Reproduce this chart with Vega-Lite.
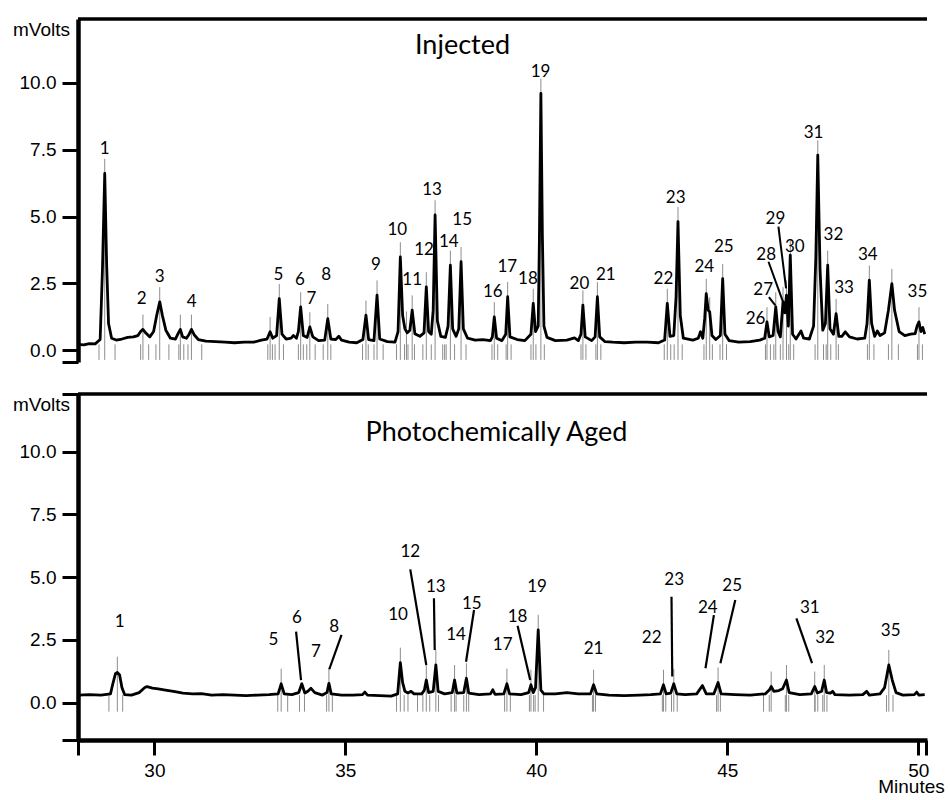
{
"$schema": "https://vega.github.io/schema/vega-lite/v6.json",
"background": "white",
"padding": {"left": 12, "top": 17, "right": 5, "bottom": 0},
"spacing": 28,
"config": {"view": {"stroke": null}, "axis": {"grid": false, "domainColor": "black", "tickColor": "black", "labelColor": "black", "titleColor": "black", "labelFont": "Liberation Sans", "titleFont": "Liberation Sans", "labelFontSize": 19, "titleFontSize": 19, "titleFontWeight": "normal"}},
"datasets": {
"topTrace": [{"t":28.0,"v":0.22},{"t":28.15,"v":0.2},{"t":28.3,"v":0.25},{"t":28.45,"v":0.24},{"t":28.58,"v":0.4},{"t":28.64,"v":3.0},{"t":28.70,"v":6.61},{"t":28.75,"v":3.2},{"t":28.80,"v":1.0},{"t":28.88,"v":0.45},{"t":29.0,"v":0.38},{"t":29.15,"v":0.42},{"t":29.3,"v":0.48},{"t":29.45,"v":0.5},{"t":29.57,"v":0.55},{"t":29.64,"v":0.7},{"t":29.70,"v":0.78},{"t":29.77,"v":0.65},{"t":29.88,"v":0.5},{"t":29.98,"v":0.7},{"t":30.06,"v":1.3},{"t":30.14,"v":1.81},{"t":30.21,"v":1.3},{"t":30.3,"v":0.75},{"t":30.42,"v":0.45},{"t":30.55,"v":0.42},{"t":30.62,"v":0.62},{"t":30.68,"v":0.78},{"t":30.74,"v":0.5},{"t":30.84,"v":0.45},{"t":30.91,"v":0.6},{"t":30.97,"v":0.78},{"t":31.04,"v":0.58},{"t":31.15,"v":0.4},{"t":31.35,"v":0.34},{"t":31.6,"v":0.32},{"t":31.85,"v":0.3},{"t":32.1,"v":0.28},{"t":32.35,"v":0.3},{"t":32.6,"v":0.3},{"t":32.8,"v":0.38},{"t":32.95,"v":0.42},{"t":33.03,"v":0.69},{"t":33.1,"v":0.45},{"t":33.2,"v":0.55},{"t":33.27,"v":1.93},{"t":33.34,"v":0.6},{"t":33.45,"v":0.42},{"t":33.58,"v":0.45},{"t":33.64,"v":0.55},{"t":33.72,"v":0.45},{"t":33.77,"v":0.7},{"t":33.83,"v":1.62},{"t":33.9,"v":0.55},{"t":34.0,"v":0.48},{"t":34.07,"v":0.87},{"t":34.15,"v":0.5},{"t":34.3,"v":0.36},{"t":34.46,"v":0.38},{"t":34.54,"v":1.18},{"t":34.62,"v":0.42},{"t":34.75,"v":0.4},{"t":34.83,"v":0.52},{"t":34.9,"v":0.38},{"t":35.1,"v":0.3},{"t":35.3,"v":0.28},{"t":35.46,"v":0.4},{"t":35.54,"v":1.31},{"t":35.61,"v":0.4},{"t":35.75,"v":0.36},{"t":35.83,"v":2.06},{"t":35.9,"v":0.42},{"t":36.1,"v":0.32},{"t":36.3,"v":0.3},{"t":36.38,"v":0.7},{"t":36.44,"v":3.49},{"t":36.5,"v":1.3},{"t":36.56,"v":0.8},{"t":36.62,"v":0.65},{"t":36.69,"v":0.75},{"t":36.75,"v":1.5},{"t":36.82,"v":0.62},{"t":36.95,"v":0.52},{"t":37.06,"v":0.65},{"t":37.12,"v":2.37},{"t":37.18,"v":0.7},{"t":37.25,"v":0.6},{"t":37.3,"v":1.5},{"t":37.35,"v":5.06},{"t":37.41,"v":1.1},{"t":37.5,"v":0.52},{"t":37.62,"v":0.48},{"t":37.69,"v":0.9},{"t":37.75,"v":3.18},{"t":37.81,"v":0.8},{"t":37.9,"v":0.52},{"t":37.97,"v":0.8},{"t":38.03,"v":3.31},{"t":38.09,"v":0.8},{"t":38.2,"v":0.45},{"t":38.4,"v":0.38},{"t":38.6,"v":0.4},{"t":38.8,"v":0.36},{"t":38.85,"v":0.5},{"t":38.90,"v":1.25},{"t":38.96,"v":0.45},{"t":39.1,"v":0.36},{"t":39.2,"v":0.6},{"t":39.25,"v":2.0},{"t":39.31,"v":0.5},{"t":39.5,"v":0.4},{"t":39.7,"v":0.36},{"t":39.86,"v":0.6},{"t":39.92,"v":1.75},{"t":39.98,"v":0.7},{"t":40.05,"v":0.9},{"t":40.08,"v":4.0},{"t":40.12,"v":9.61},{"t":40.16,"v":4.2},{"t":40.2,"v":0.9},{"t":40.28,"v":0.48},{"t":40.5,"v":0.36},{"t":40.8,"v":0.38},{"t":41.0,"v":0.46},{"t":41.1,"v":0.36},{"t":41.17,"v":0.6},{"t":41.22,"v":1.69},{"t":41.28,"v":0.5},{"t":41.45,"v":0.36},{"t":41.54,"v":0.5},{"t":41.60,"v":2.0},{"t":41.66,"v":0.5},{"t":41.8,"v":0.32},{"t":42.0,"v":0.3},{"t":42.3,"v":0.28},{"t":42.6,"v":0.3},{"t":42.9,"v":0.3},{"t":43.2,"v":0.28},{"t":43.36,"v":0.38},{"t":43.43,"v":1.75},{"t":43.5,"v":0.52},{"t":43.6,"v":0.55},{"t":43.66,"v":2.0},{"t":43.71,"v":4.81},{"t":43.77,"v":1.3},{"t":43.85,"v":0.45},{"t":44.1,"v":0.38},{"t":44.24,"v":0.45},{"t":44.30,"v":0.69},{"t":44.36,"v":0.45},{"t":44.41,"v":1.2},{"t":44.45,"v":2.12},{"t":44.50,"v":1.5},{"t":44.54,"v":1.43},{"t":44.6,"v":0.55},{"t":44.7,"v":0.4},{"t":44.82,"v":0.55},{"t":44.88,"v":2.68},{"t":44.94,"v":0.6},{"t":45.05,"v":0.36},{"t":45.3,"v":0.3},{"t":45.6,"v":0.32},{"t":45.85,"v":0.38},{"t":45.98,"v":0.45},{"t":46.04,"v":1.06},{"t":46.1,"v":0.5},{"t":46.2,"v":0.55},{"t":46.27,"v":1.62},{"t":46.33,"v":0.7},{"t":46.39,"v":0.5},{"t":46.46,"v":1.81},{"t":46.51,"v":1.4},{"t":46.55,"v":2.06},{"t":46.6,"v":0.9},{"t":46.65,"v":3.56},{"t":46.71,"v":0.6},{"t":46.8,"v":0.42},{"t":46.93,"v":0.72},{"t":47.0,"v":0.45},{"t":47.15,"v":0.42},{"t":47.26,"v":0.9},{"t":47.32,"v":3.5},{"t":47.37,"v":7.30},{"t":47.43,"v":3.0},{"t":47.5,"v":0.75},{"t":47.57,"v":1.0},{"t":47.63,"v":3.18},{"t":47.69,"v":0.8},{"t":47.78,"v":0.6},{"t":47.85,"v":1.37},{"t":47.92,"v":0.52},{"t":48.0,"v":0.52},{"t":48.09,"v":0.69},{"t":48.2,"v":0.5},{"t":48.4,"v":0.42},{"t":48.6,"v":0.45},{"t":48.66,"v":1.0},{"t":48.72,"v":2.62},{"t":48.78,"v":1.0},{"t":48.86,"v":0.52},{"t":48.93,"v":0.72},{"t":49.0,"v":0.55},{"t":49.12,"v":0.65},{"t":49.22,"v":1.5},{"t":49.31,"v":2.49},{"t":49.38,"v":1.5},{"t":49.5,"v":0.7},{"t":49.65,"v":0.55},{"t":49.8,"v":0.6},{"t":49.92,"v":0.62},{"t":49.97,"v":0.9},{"t":50.02,"v":1.06},{"t":50.07,"v":0.7},{"t":50.12,"v":0.85},{"t":50.17,"v":0.6}],
"bottomTrace": [{"t":28.0,"v":0.3},{"t":28.3,"v":0.32},{"t":28.6,"v":0.3},{"t":28.85,"v":0.35},{"t":28.92,"v":0.8},{"t":28.98,"v":1.15},{"t":29.03,"v":1.2},{"t":29.09,"v":1.1},{"t":29.15,"v":0.6},{"t":29.22,"v":0.32},{"t":29.4,"v":0.3},{"t":29.6,"v":0.4},{"t":29.75,"v":0.6},{"t":29.81,"v":0.64},{"t":29.95,"v":0.58},{"t":30.1,"v":0.55},{"t":30.29,"v":0.5},{"t":30.5,"v":0.45},{"t":30.75,"v":0.38},{"t":31.0,"v":0.35},{"t":31.23,"v":0.36},{"t":31.5,"v":0.3},{"t":31.8,"v":0.32},{"t":32.1,"v":0.3},{"t":32.4,"v":0.28},{"t":32.7,"v":0.3},{"t":33.0,"v":0.32},{"t":33.24,"v":0.35},{"t":33.32,"v":0.75},{"t":33.4,"v":0.35},{"t":33.6,"v":0.32},{"t":33.78,"v":0.4},{"t":33.86,"v":0.75},{"t":33.94,"v":0.38},{"t":34.02,"v":0.45},{"t":34.1,"v":0.57},{"t":34.2,"v":0.4},{"t":34.4,"v":0.3},{"t":34.52,"v":0.4},{"t":34.57,"v":0.77},{"t":34.63,"v":0.35},{"t":34.9,"v":0.3},{"t":35.2,"v":0.3},{"t":35.45,"v":0.32},{"t":35.51,"v":0.42},{"t":35.58,"v":0.3},{"t":35.9,"v":0.28},{"t":36.2,"v":0.26},{"t":36.37,"v":0.35},{"t":36.44,"v":1.59},{"t":36.5,"v":0.8},{"t":36.56,"v":0.45},{"t":36.64,"v":0.38},{"t":36.72,"v":0.45},{"t":36.8,"v":0.35},{"t":37.0,"v":0.35},{"t":37.07,"v":0.5},{"t":37.12,"v":0.9},{"t":37.18,"v":0.4},{"t":37.3,"v":0.45},{"t":37.37,"v":1.5},{"t":37.43,"v":0.45},{"t":37.6,"v":0.35},{"t":37.8,"v":0.4},{"t":37.86,"v":0.9},{"t":37.92,"v":0.38},{"t":38.1,"v":0.4},{"t":38.17,"v":0.97},{"t":38.23,"v":0.38},{"t":38.5,"v":0.32},{"t":38.8,"v":0.35},{"t":38.86,"v":0.51},{"t":38.92,"v":0.33},{"t":39.15,"v":0.35},{"t":39.23,"v":0.75},{"t":39.3,"v":0.35},{"t":39.6,"v":0.32},{"t":39.8,"v":0.4},{"t":39.86,"v":0.71},{"t":39.92,"v":0.4},{"t":39.98,"v":0.6},{"t":40.05,"v":2.9},{"t":40.12,"v":0.5},{"t":40.2,"v":0.35},{"t":40.5,"v":0.35},{"t":40.8,"v":0.4},{"t":41.1,"v":0.35},{"t":41.42,"v":0.35},{"t":41.5,"v":0.71},{"t":41.58,"v":0.35},{"t":41.9,"v":0.3},{"t":42.3,"v":0.28},{"t":42.7,"v":0.3},{"t":43.0,"v":0.32},{"t":43.25,"v":0.35},{"t":43.33,"v":0.71},{"t":43.4,"v":0.35},{"t":43.52,"v":0.38},{"t":43.6,"v":0.75},{"t":43.68,"v":0.35},{"t":43.9,"v":0.32},{"t":44.2,"v":0.35},{"t":44.35,"v":0.68},{"t":44.45,"v":0.35},{"t":44.65,"v":0.35},{"t":44.76,"v":0.8},{"t":44.84,"v":0.35},{"t":45.2,"v":0.32},{"t":45.6,"v":0.3},{"t":46.0,"v":0.35},{"t":46.1,"v":0.5},{"t":46.15,"v":0.64},{"t":46.22,"v":0.45},{"t":46.35,"v":0.48},{"t":46.45,"v":0.55},{"t":46.55,"v":0.9},{"t":46.62,"v":0.4},{"t":46.9,"v":0.32},{"t":47.2,"v":0.35},{"t":47.29,"v":0.64},{"t":47.36,"v":0.38},{"t":47.47,"v":0.45},{"t":47.54,"v":0.9},{"t":47.6,"v":0.4},{"t":47.7,"v":0.38},{"t":47.76,"v":0.45},{"t":47.82,"v":0.32},{"t":48.2,"v":0.3},{"t":48.55,"v":0.32},{"t":48.65,"v":0.45},{"t":48.72,"v":0.3},{"t":49.0,"v":0.35},{"t":49.12,"v":0.6},{"t":49.23,"v":1.5},{"t":49.32,"v":0.9},{"t":49.42,"v":0.4},{"t":49.6,"v":0.3},{"t":49.9,"v":0.32},{"t":49.96,"v":0.42},{"t":50.02,"v":0.3},{"t":50.17,"v":0.32}],
"topPeaks": [{"label":"1","lx":28.70,"ly":7.54},{"label":"2","lx":29.67,"ly":1.92},{"label":"3","lx":30.14,"ly":2.75},{"label":"4","lx":30.98,"ly":1.81},{"label":"5","lx":33.25,"ly":2.82},{"label":"6","lx":33.81,"ly":2.63},{"label":"7","lx":34.11,"ly":1.92},{"label":"8","lx":34.50,"ly":2.82},{"label":"9","lx":35.80,"ly":3.19},{"label":"10","lx":36.36,"ly":4.51},{"label":"11","lx":36.75,"ly":2.63},{"label":"12","lx":37.06,"ly":3.76},{"label":"13","lx":37.27,"ly":6.0},{"label":"14","lx":37.71,"ly":4.06},{"label":"15","lx":38.06,"ly":4.88},{"label":"16","lx":38.86,"ly":2.18},{"label":"17","lx":39.24,"ly":3.12},{"label":"18","lx":39.78,"ly":2.67},{"label":"19","lx":40.11,"ly":10.42},{"label":"20","lx":41.13,"ly":2.48},{"label":"21","lx":41.82,"ly":2.82},{"label":"22","lx":43.33,"ly":2.68},{"label":"23","lx":43.65,"ly":5.68},{"label":"24","lx":44.40,"ly":3.12},{"label":"25","lx":44.91,"ly":3.87},{"label":"26","lx":45.74,"ly":1.18},{"label":"27","lx":45.94,"ly":2.26},{"label":"28","lx":46.02,"ly":3.58},{"label":"29","lx":46.26,"ly":4.91},{"label":"30","lx":46.77,"ly":3.87},{"label":"31","lx":47.26,"ly":8.11},{"label":"32","lx":47.78,"ly":4.32},{"label":"33","lx":48.06,"ly":2.31},{"label":"34","lx":48.68,"ly":3.57},{"label":"35","lx":49.98,"ly":2.16}],
"topMarkers": [{"rt":28.70,"lo":-0.36,"hi":7.16},{"rt":29.70,"lo":-0.36,"hi":1.33},{"rt":30.14,"lo":-0.36,"hi":2.36},{"rt":30.68,"lo":-0.36,"hi":1.33},{"rt":30.97,"lo":-0.36,"hi":1.33},{"rt":33.03,"lo":-0.36,"hi":1.24},{"rt":33.27,"lo":-0.36,"hi":2.48},{"rt":33.83,"lo":-0.36,"hi":2.17},{"rt":34.07,"lo":-0.36,"hi":1.42},{"rt":34.54,"lo":-0.36,"hi":1.73},{"rt":35.54,"lo":-0.36,"hi":1.86},{"rt":35.83,"lo":-0.36,"hi":2.61},{"rt":36.44,"lo":-0.36,"hi":4.04},{"rt":36.60,"lo":-0.36,"hi":1.45},{"rt":36.75,"lo":-0.36,"hi":2.05},{"rt":37.12,"lo":-0.36,"hi":2.92},{"rt":37.35,"lo":-0.36,"hi":5.61},{"rt":37.75,"lo":-0.36,"hi":3.73},{"rt":38.03,"lo":-0.36,"hi":3.86},{"rt":38.90,"lo":-0.36,"hi":1.8},{"rt":39.25,"lo":-0.36,"hi":2.55},{"rt":39.92,"lo":-0.36,"hi":2.3},{"rt":40.12,"lo":-0.36,"hi":10.16},{"rt":41.22,"lo":-0.36,"hi":2.24},{"rt":41.60,"lo":-0.36,"hi":2.55},{"rt":43.43,"lo":-0.36,"hi":2.3},{"rt":43.71,"lo":-0.36,"hi":5.36},{"rt":44.45,"lo":-0.36,"hi":2.67},{"rt":44.54,"lo":-0.36,"hi":1.98},{"rt":44.88,"lo":-0.36,"hi":3.23},{"rt":46.04,"lo":-0.36,"hi":1.61},{"rt":46.27,"lo":-0.36,"hi":2.17},{"rt":46.46,"lo":-0.36,"hi":2.36},{"rt":46.55,"lo":-0.36,"hi":2.61},{"rt":46.65,"lo":-0.36,"hi":4.11},{"rt":47.37,"lo":-0.36,"hi":7.85},{"rt":47.63,"lo":-0.36,"hi":3.73},{"rt":47.85,"lo":-0.36,"hi":1.92},{"rt":48.72,"lo":-0.36,"hi":3.17},{"rt":49.31,"lo":-0.36,"hi":3.04},{"rt":50.02,"lo":-0.36,"hi":1.61}],
"topEvents": [{"t":28.55,"lo":-0.36,"hi":0.22},{"t":28.97,"lo":-0.36,"hi":0.22},{"t":29.64,"lo":-0.36,"hi":0.22},{"t":29.85,"lo":-0.36,"hi":0.22},{"t":30.04,"lo":-0.36,"hi":0.22},{"t":30.38,"lo":-0.36,"hi":0.22},{"t":30.64,"lo":-0.36,"hi":0.22},{"t":30.77,"lo":-0.36,"hi":0.22},{"t":30.88,"lo":-0.36,"hi":0.22},{"t":31.24,"lo":-0.36,"hi":0.22},{"t":32.97,"lo":-0.36,"hi":0.22},{"t":33.09,"lo":-0.36,"hi":0.22},{"t":33.16,"lo":-0.36,"hi":0.22},{"t":33.38,"lo":-0.36,"hi":0.22},{"t":33.77,"lo":-0.36,"hi":0.22},{"t":33.90,"lo":-0.36,"hi":0.22},{"t":33.99,"lo":-0.36,"hi":0.22},{"t":34.21,"lo":-0.36,"hi":0.22},{"t":34.42,"lo":-0.36,"hi":0.22},{"t":34.62,"lo":-0.36,"hi":0.22},{"t":35.45,"lo":-0.36,"hi":0.22},{"t":35.60,"lo":-0.36,"hi":0.22},{"t":35.75,"lo":-0.36,"hi":0.22},{"t":35.99,"lo":-0.36,"hi":0.22},{"t":36.34,"lo":-0.36,"hi":0.22},{"t":36.55,"lo":-0.36,"hi":0.22},{"t":36.64,"lo":-0.36,"hi":0.22},{"t":36.81,"lo":-0.36,"hi":0.22},{"t":37.03,"lo":-0.36,"hi":0.22},{"t":37.25,"lo":-0.36,"hi":0.22},{"t":37.55,"lo":-0.36,"hi":0.22},{"t":37.60,"lo":-0.36,"hi":0.22},{"t":37.64,"lo":-0.36,"hi":0.22},{"t":37.86,"lo":-0.36,"hi":0.22},{"t":38.16,"lo":-0.36,"hi":0.22},{"t":38.84,"lo":-0.36,"hi":0.22},{"t":38.99,"lo":-0.36,"hi":0.22},{"t":39.21,"lo":-0.36,"hi":0.22},{"t":39.34,"lo":-0.36,"hi":0.22},{"t":39.86,"lo":-0.36,"hi":0.22},{"t":39.99,"lo":-0.36,"hi":0.22},{"t":40.21,"lo":-0.36,"hi":0.22},{"t":41.17,"lo":-0.36,"hi":0.22},{"t":41.30,"lo":-0.36,"hi":0.22},{"t":41.56,"lo":-0.36,"hi":0.22},{"t":41.69,"lo":-0.36,"hi":0.22},{"t":43.35,"lo":-0.36,"hi":0.22},{"t":43.52,"lo":-0.36,"hi":0.22},{"t":43.61,"lo":-0.36,"hi":0.22},{"t":43.82,"lo":-0.36,"hi":0.22},{"t":44.39,"lo":-0.36,"hi":0.22},{"t":44.61,"lo":-0.36,"hi":0.22},{"t":44.81,"lo":-0.36,"hi":0.22},{"t":44.98,"lo":-0.36,"hi":0.22},{"t":46.0,"lo":-0.36,"hi":0.22},{"t":46.13,"lo":-0.36,"hi":0.22},{"t":46.22,"lo":-0.36,"hi":0.22},{"t":46.39,"lo":-0.36,"hi":0.22},{"t":46.61,"lo":-0.36,"hi":0.22},{"t":46.74,"lo":-0.36,"hi":0.22},{"t":47.30,"lo":-0.36,"hi":0.22},{"t":47.52,"lo":-0.36,"hi":0.22},{"t":47.59,"lo":-0.36,"hi":0.22},{"t":47.71,"lo":-0.36,"hi":0.22},{"t":47.91,"lo":-0.36,"hi":0.22},{"t":48.67,"lo":-0.36,"hi":0.22},{"t":48.84,"lo":-0.36,"hi":0.22},{"t":49.22,"lo":-0.36,"hi":0.22},{"t":49.48,"lo":-0.36,"hi":0.22},{"t":49.98,"lo":-0.36,"hi":0.22},{"t":50.11,"lo":-0.36,"hi":0.22}],
"topLeaders": [{"x1":46.09,"y1":1.99,"x2":46.26,"y2":1.68},{"x1":46.08,"y1":3.31,"x2":46.46,"y2":1.81},{"x1":46.34,"y1":4.62,"x2":46.54,"y2":2.31}],
"bottomPeaks": [{"label":"1","lx":29.09,"ly":3.23},{"label":"5","lx":33.12,"ly":2.50},{"label":"6","lx":33.73,"ly":3.36},{"label":"7","lx":34.23,"ly":2.03},{"label":"8","lx":34.71,"ly":3.03},{"label":"10","lx":36.38,"ly":3.49},{"label":"12","lx":36.70,"ly":6.02},{"label":"13","lx":37.37,"ly":4.62},{"label":"14","lx":37.90,"ly":2.70},{"label":"15","lx":38.31,"ly":3.93},{"label":"17","lx":39.12,"ly":2.30},{"label":"18","lx":39.51,"ly":3.40},{"label":"19","lx":40.02,"ly":4.62},{"label":"21","lx":41.50,"ly":2.13},{"label":"22","lx":43.02,"ly":2.57},{"label":"23","lx":43.61,"ly":4.89},{"label":"24","lx":44.49,"ly":3.76},{"label":"25","lx":45.13,"ly":4.65},{"label":"31","lx":47.16,"ly":3.76},{"label":"32","lx":47.56,"ly":2.57},{"label":"35","lx":49.28,"ly":2.87}],
"bottomMarkers": [{"rt":29.03,"lo":-0.36,"hi":1.83},{"rt":33.32,"lo":-0.36,"hi":1.35},{"rt":34.57,"lo":-0.36,"hi":1.37},{"rt":36.44,"lo":-0.36,"hi":2.19},{"rt":37.12,"lo":-0.36,"hi":1.5},{"rt":37.37,"lo":-0.36,"hi":2.1},{"rt":37.86,"lo":-0.36,"hi":1.5},{"rt":38.17,"lo":-0.36,"hi":1.57},{"rt":39.23,"lo":-0.36,"hi":1.35},{"rt":39.86,"lo":-0.36,"hi":1.31},{"rt":40.05,"lo":-0.36,"hi":3.5},{"rt":41.50,"lo":-0.36,"hi":1.31},{"rt":43.33,"lo":-0.36,"hi":1.31},{"rt":43.60,"lo":-0.36,"hi":1.35},{"rt":44.76,"lo":-0.36,"hi":1.4},{"rt":46.15,"lo":-0.36,"hi":1.24},{"rt":46.55,"lo":-0.36,"hi":1.5},{"rt":47.29,"lo":-0.36,"hi":1.24},{"rt":47.54,"lo":-0.36,"hi":1.5},{"rt":49.23,"lo":-0.36,"hi":2.1}],
"bottomEvents": [{"t":28.81,"lo":-0.36,"hi":0.3},{"t":29.17,"lo":-0.36,"hi":0.3},{"t":33.23,"lo":-0.36,"hi":0.3},{"t":33.49,"lo":-0.36,"hi":0.3},{"t":33.80,"lo":-0.36,"hi":0.3},{"t":33.93,"lo":-0.36,"hi":0.3},{"t":34.51,"lo":-0.36,"hi":0.3},{"t":34.66,"lo":-0.36,"hi":0.3},{"t":36.34,"lo":-0.36,"hi":0.3},{"t":36.54,"lo":-0.36,"hi":0.3},{"t":36.64,"lo":-0.36,"hi":0.3},{"t":36.89,"lo":-0.36,"hi":0.3},{"t":37.03,"lo":-0.36,"hi":0.3},{"t":37.21,"lo":-0.36,"hi":0.3},{"t":37.44,"lo":-0.36,"hi":0.3},{"t":37.77,"lo":-0.36,"hi":0.3},{"t":37.90,"lo":-0.36,"hi":0.3},{"t":38.10,"lo":-0.36,"hi":0.3},{"t":38.23,"lo":-0.36,"hi":0.3},{"t":39.17,"lo":-0.36,"hi":0.3},{"t":39.32,"lo":-0.36,"hi":0.3},{"t":39.82,"lo":-0.36,"hi":0.3},{"t":39.93,"lo":-0.36,"hi":0.3},{"t":39.97,"lo":-0.36,"hi":0.3},{"t":40.19,"lo":-0.36,"hi":0.3},{"t":41.47,"lo":-0.36,"hi":0.3},{"t":41.55,"lo":-0.36,"hi":0.3},{"t":43.30,"lo":-0.36,"hi":0.3},{"t":43.39,"lo":-0.36,"hi":0.3},{"t":43.54,"lo":-0.36,"hi":0.3},{"t":43.69,"lo":-0.36,"hi":0.3},{"t":44.72,"lo":-0.36,"hi":0.3},{"t":44.82,"lo":-0.36,"hi":0.3},{"t":45.95,"lo":-0.36,"hi":0.3},{"t":46.10,"lo":-0.36,"hi":0.3},{"t":46.52,"lo":-0.36,"hi":0.3},{"t":46.61,"lo":-0.36,"hi":0.3},{"t":47.30,"lo":-0.36,"hi":0.3},{"t":47.37,"lo":-0.36,"hi":0.3},{"t":47.50,"lo":-0.36,"hi":0.3},{"t":47.61,"lo":-0.36,"hi":0.3},{"t":49.17,"lo":-0.36,"hi":0.3},{"t":49.34,"lo":-0.36,"hi":0.3}],
"bottomLeaders": [{"x1":33.71,"y1":2.83,"x2":33.84,"y2":0.90},{"x1":34.90,"y1":2.70,"x2":34.58,"y2":1.33},{"x1":36.70,"y1":5.31,"x2":37.12,"y2":1.50},{"x1":37.32,"y1":4.16,"x2":37.34,"y2":2.10},{"x1":38.37,"y1":3.69,"x2":38.16,"y2":1.63},{"x1":39.51,"y1":3.06,"x2":39.84,"y2":0.90},{"x1":43.54,"y1":4.22,"x2":43.56,"y2":1.04},{"x1":44.65,"y1":3.49,"x2":44.43,"y2":1.37},{"x1":45.21,"y1":4.09,"x2":44.82,"y2":1.57},{"x1":46.81,"y1":3.36,"x2":47.22,"y2":1.57}],
"frameTop": [{"top": 12.39}],
"frameBottom": [{"top": 12.30}]
},
"vconcat": [
{
"width": 849, "height": 343,
"title": {"text": "Injected", "font": "Lato", "fontSize": 27, "fontWeight": "normal", "color": "black", "anchor": "middle", "frame": "group", "baseline": "alphabetic", "offset": -64, "dx": -40},
"layer": [
{"data": {"name": "topMarkers"}, "mark": {"type": "rule", "color": "#8c8c8c", "strokeWidth": 1},
 "encoding": {"x": {"field": "rt", "type": "quantitative", "scale": {"domain": [28, 50.23], "nice": false, "zero": false}, "axis": null},
  "y": {"field": "lo", "type": "quantitative", "scale": {"domain": [-0.44, 12.39], "nice": false, "zero": false}}, "y2": {"field": "hi"}}},
{"data": {"name": "topEvents"}, "mark": {"type": "rule", "color": "#8c8c8c", "strokeWidth": 1},
 "encoding": {"x": {"field": "t", "type": "quantitative"}, "y": {"field": "lo", "type": "quantitative"}, "y2": {"field": "hi"}}},
{"data": {"name": "topTrace"}, "mark": {"type": "line", "color": "black", "strokeWidth": 2.8, "strokeJoin": "round"},
 "encoding": {"x": {"field": "t", "type": "quantitative"},
  "y": {"field": "v", "type": "quantitative",
   "axis": {"values": [-0.44, 0, 2.5, 5, 7.5, 10], "labelExpr": "datum.value < -0.1 ? '' : format(datum.value, '.1f')", "domainWidth": 4.5, "tickWidth": 3, "tickSize": 16, "labelPadding": 6, "title": "mVolts", "titleAngle": 0, "titleX": -37, "titleY": 10, "titleAlign": "center", "titleBaseline": "middle"}}}},
{"data": {"name": "topLeaders"}, "mark": {"type": "rule", "color": "black", "strokeWidth": 2},
 "encoding": {"x": {"field": "x1", "type": "quantitative"}, "x2": {"field": "x2"},
  "y": {"field": "y1", "type": "quantitative"}, "y2": {"field": "y2"}}},
{"data": {"name": "topPeaks"}, "mark": {"type": "text", "font": "Lato", "fontSize": 17, "color": "black", "align": "center", "baseline": "middle"},
 "encoding": {"x": {"field": "lx", "type": "quantitative"},
  "y": {"field": "ly", "type": "quantitative"}, "text": {"field": "label", "type": "nominal"}}},
{"data": {"name": "frameTop"}, "mark": {"type": "rule", "color": "black", "strokeWidth": 3.5},
 "encoding": {"y": {"field": "top", "type": "quantitative"}}}
]
},
{
"width": 849, "height": 346,
"title": {"text": "Photochemically Aged", "font": "Lato", "fontSize": 27, "fontWeight": "normal", "color": "black", "anchor": "middle", "frame": "group", "baseline": "alphabetic", "offset": -76, "dx": -6},
"layer": [
{"data": {"name": "bottomMarkers"}, "mark": {"type": "rule", "color": "#8c8c8c", "strokeWidth": 1},
 "encoding": {"x": {"field": "rt", "type": "quantitative", "scale": {"domain": [28, 50.23], "nice": false, "zero": false}},
  "y": {"field": "lo", "type": "quantitative", "scale": {"domain": [-1.49, 12.30], "nice": false, "zero": false}}, "y2": {"field": "hi"}}},
{"data": {"name": "bottomEvents"}, "mark": {"type": "rule", "color": "#8c8c8c", "strokeWidth": 1},
 "encoding": {"x": {"field": "t", "type": "quantitative"}, "y": {"field": "lo", "type": "quantitative"}, "y2": {"field": "hi"}}},
{"data": {"name": "bottomTrace"}, "mark": {"type": "line", "color": "black", "strokeWidth": 2.8, "strokeJoin": "round"},
 "encoding": {"x": {"field": "t", "type": "quantitative",
   "axis": {"values": [28, 30, 35, 40, 45, 50, 50.2], "labelExpr": "datum.value < 29 || datum.value > 50.1 ? '' : format(datum.value, 'd')", "domainWidth": 4.5, "tickWidth": 3, "tickSize": 15, "labelPadding": 6, "labelFlush": false, "title": "Minutes", "titleX": 833, "titleY": 52, "titleAlign": "center", "titleBaseline": "alphabetic"}},
  "y": {"field": "v", "type": "quantitative",
   "axis": {"values": [-1.49, 0, 2.5, 5, 7.5, 10, 12.30], "labelExpr": "datum.value > 11 || datum.value < -0.1 ? '' : format(datum.value, '.1f')", "domainWidth": 4.5, "tickWidth": 3, "tickSize": 16, "labelPadding": 6, "title": "mVolts", "titleAngle": 0, "titleX": -37, "titleY": 10, "titleAlign": "center", "titleBaseline": "middle"}}}},
{"data": {"name": "bottomLeaders"}, "mark": {"type": "rule", "color": "black", "strokeWidth": 2.2},
 "encoding": {"x": {"field": "x1", "type": "quantitative"}, "x2": {"field": "x2"},
  "y": {"field": "y1", "type": "quantitative"}, "y2": {"field": "y2"}}},
{"data": {"name": "bottomPeaks"}, "mark": {"type": "text", "font": "Lato", "fontSize": 17, "color": "black", "align": "center", "baseline": "middle"},
 "encoding": {"x": {"field": "lx", "type": "quantitative"},
  "y": {"field": "ly", "type": "quantitative"}, "text": {"field": "label", "type": "nominal"}}},
{"data": {"name": "frameBottom"}, "mark": {"type": "rule", "color": "black", "strokeWidth": 3.5},
 "encoding": {"y": {"field": "top", "type": "quantitative"}}}
]
}
]
}
